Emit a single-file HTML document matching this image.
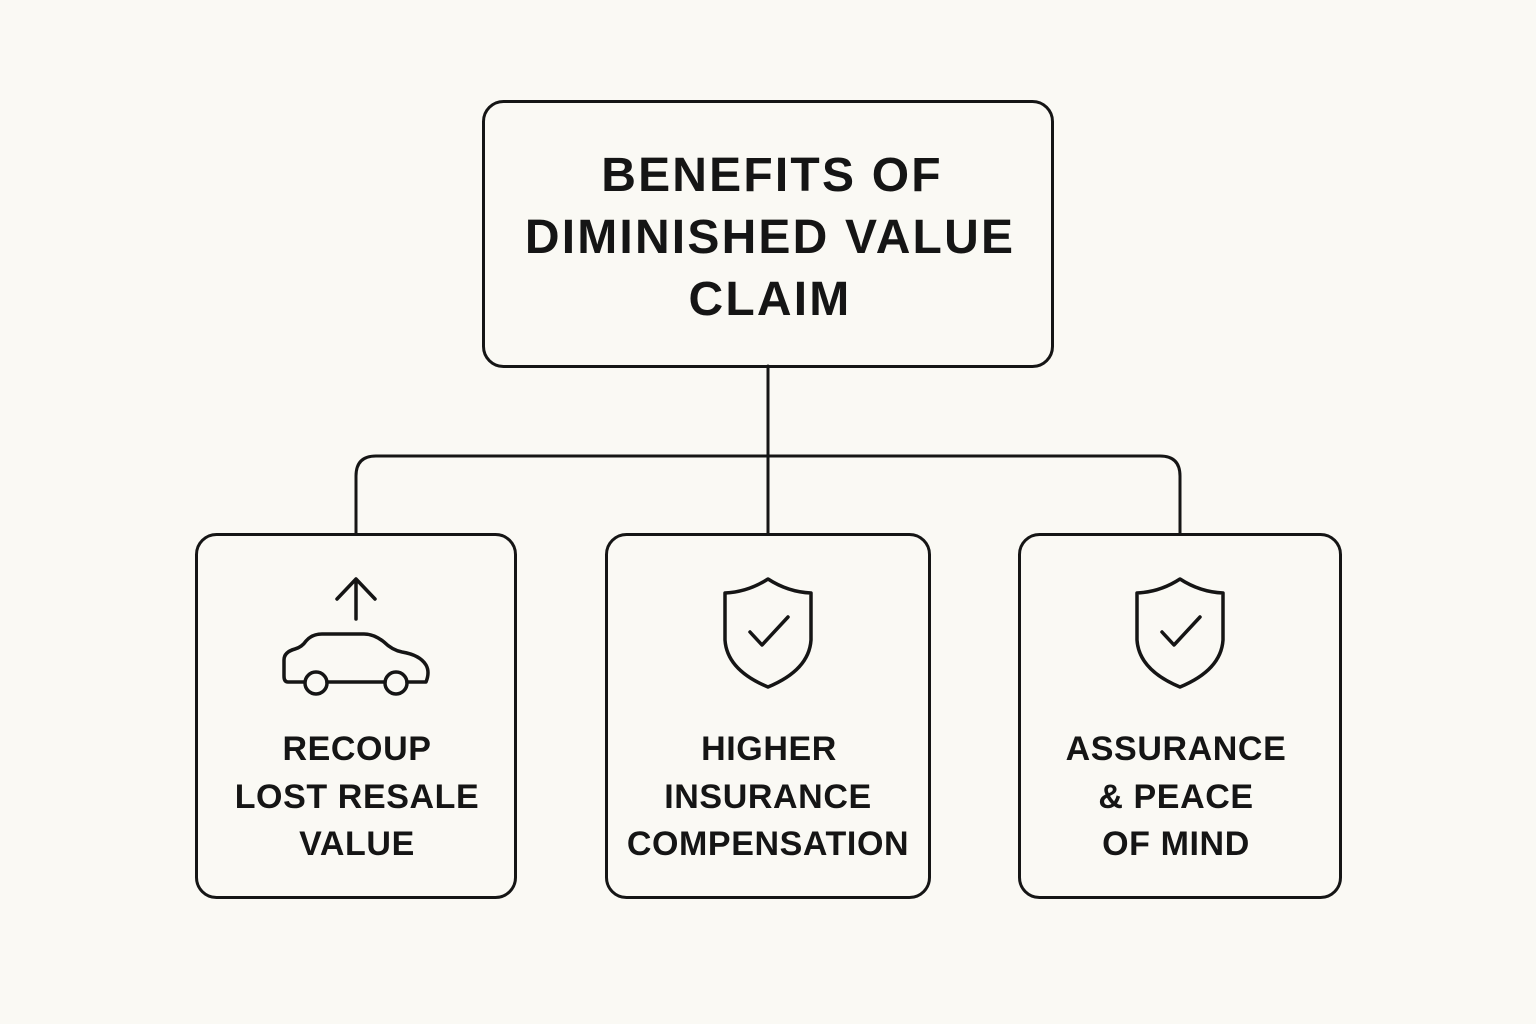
<!DOCTYPE html>
<html><head><style>
html,body{margin:0;padding:0;background:#faf9f4;}
svg{display:block}
text{font-family:"Liberation Sans",sans-serif;font-weight:bold;fill:#151515;text-anchor:middle}
</style></head><body>
<svg width="1536" height="1024" viewBox="0 0 1536 1024">
<rect width="1536" height="1024" fill="#faf9f4"/>
<g fill="none" stroke="#151515" stroke-width="3" stroke-linecap="round" stroke-linejoin="round">
<rect x="483.5" y="101.5" width="569" height="265" rx="20"/>
<line x1="768" y1="366" x2="768" y2="533"/>
<path d="M356 533 V476 Q356 456 376 456 H1160 Q1180 456 1180 476 V533"/>
<rect x="196.5" y="534.5" width="319" height="363" rx="20"/>
<rect x="606.5" y="534.5" width="323" height="363" rx="20"/>
<rect x="1019.5" y="534.5" width="321" height="363" rx="20"/>
<g stroke-width="3.5">
<path d="M356 619 V579 M337 599 L356 579 L375 599"/>
<path d="M304 682 H288 Q284 682 284 676 V660 Q284 652 295 649 Q302 647 306 641 Q312 634 322 634 H364 Q374 634 384 642 Q392 650 402 652 Q420 655 426 665 Q430 672 426 682 H407 M385 682 H327"/>
<circle cx="316" cy="683" r="11"/><circle cx="396" cy="683" r="11"/>
<path d="M768 579 Q748 592 725 593 V640 Q727 670 768 687 Q809 670 811 640 V593 Q788 592 768 579 Z"/>
<path d="M750 632 L762 645 L788 617"/>
<path d="M1180 579 Q1160 592 1137 593 V640 Q1139 670 1180 687 Q1221 670 1223 640 V593 Q1200 592 1180 579 Z"/>
<path d="M1162 632 L1174 645 L1200 617"/>
</g>
</g>
<g font-size="48" letter-spacing="2.2">
<text x="772" y="191">BENEFITS OF</text>
<text x="770" y="253">DIMINISHED VALUE</text>
<text x="770" y="315">CLAIM</text>
</g>
<g font-size="34" letter-spacing="0.6">
<text x="357" y="760">RECOUP</text>
<text x="357" y="808">LOST RESALE</text>
<text x="357" y="855">VALUE</text>
<text x="769" y="760">HIGHER</text>
<text x="768" y="808">INSURANCE</text>
<text x="768" y="855">COMPENSATION</text>
<text x="1176" y="760">ASSURANCE</text>
<text x="1176" y="808">&amp; PEACE</text>
<text x="1176" y="855">OF MIND</text>
</g>
</svg>
</body></html>
